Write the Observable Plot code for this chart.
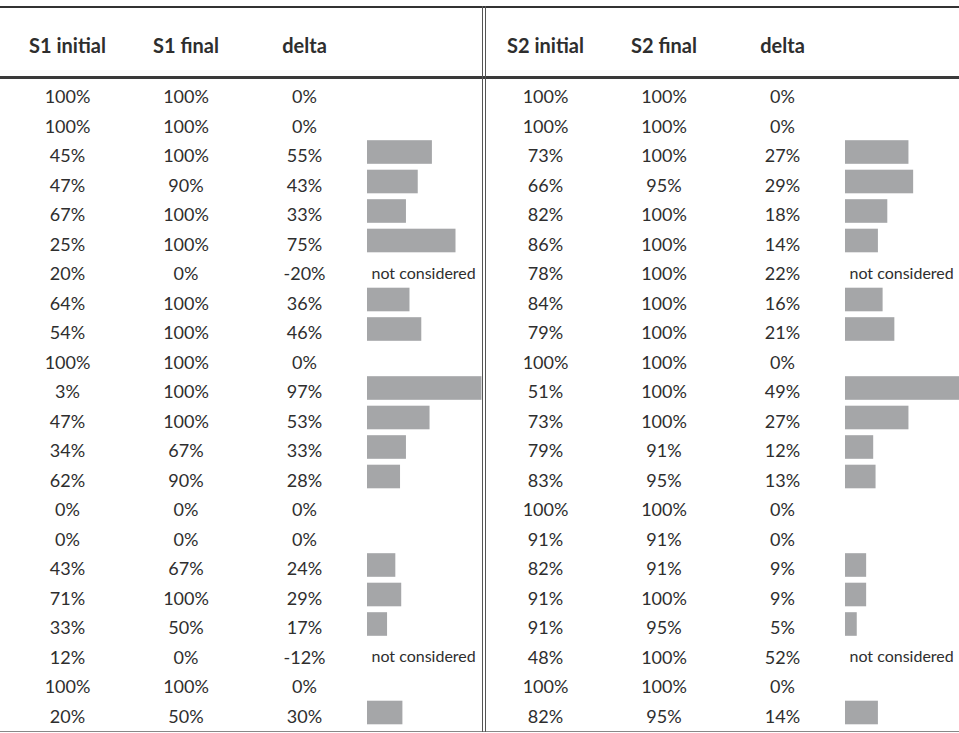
<!DOCTYPE html>
<html><head><meta charset="utf-8">
<script src="https://cdn.jsdelivr.net/npm/d3@7"></script>
<script src="https://cdn.jsdelivr.net/npm/@observablehq/plot@0.6"></script>
<style>
html,body{margin:0;padding:0;background:#fff;overflow:hidden}
#wrap{position:relative;width:959px;height:733px;font-family:Lato,sans-serif;background:#fff}
#wrap svg{position:absolute;top:0;background:transparent !important;overflow:hidden}
.rule{position:absolute}
</style></head><body><div id="wrap"></div>
<script>
// ---- data ----
const rows = d3.range(22);
const s1Columns = ["S1 initial", "S1 final", "delta"];
const s2Columns = ["S2 initial", "S2 final", "delta "];
const s1Initial = [100,100,45,47,67,25,20,64,54,100,3,47,34,62,0,0,43,71,33,12,100,20];
const s1Final   = [100,100,100,90,100,100,0,100,100,100,100,100,67,90,0,0,67,100,50,0,100,50];
const s1Delta   = [0,0,55,43,33,75,-20,36,46,0,97,53,33,28,0,0,24,29,17,-12,0,30];
const s2Initial = [100,100,73,66,82,86,78,84,79,100,51,73,79,83,100,91,82,91,91,48,100,82];
const s2Final   = [100,100,100,95,100,100,100,100,100,100,100,100,91,95,100,91,91,100,95,100,100,95];
const s2Delta   = [0,0,27,29,18,14,22,16,21,0,49,27,12,13,0,0,9,9,5,52,0,14];
const notConsideredRows = [6, 19];
const notConsideredLabel = "not considered";

const wrap = document.getElementById("wrap");
const textColor = "#2e2e2e";
const barColor = "#a5a6a8";
const yScale = {type: "band", domain: rows, range: [78.25, 727.25], paddingInner: 0.2, paddingOuter: 0.1, round: false, axis: null};

function textPlot(cols, init, fin, delta, width, xRange) {
  const long = rows.flatMap(i => [
    {row: i, col: cols[0], v: init[i]},
    {row: i, col: cols[1], v: fin[i]},
    {row: i, col: cols[2], v: delta[i]}
  ]);
  return Plot.plot({
    width, height: 733, marginTop: 78, marginBottom: 0, marginLeft: 0, marginRight: 0,
    style: {fontFamily: "Lato, sans-serif", background: "transparent", color: textColor},
    x: {type: "point", domain: cols, range: xRange, padding: 0, round: false, axis: null, label: null},
    y: yScale,
    marks: [
      Plot.axisX({anchor: "top", label: null, tickSize: 0, tickPadding: 26, fontSize: 20, fontWeight: "bold", tickFormat: d => d.trim()}),
      Plot.text(long, {x: "col", y: "row", text: d => d.v + "%", fontSize: 18, fill: textColor, dy: 4})
    ]
  });
}

function barPlot(delta, width, xRange) {
  const bars = rows.filter(i => delta[i] > 0 && !notConsideredRows.includes(i)).map(i => ({row: i, delta: delta[i]}));
  const nc = notConsideredRows.map(i => ({row: i}));
  return Plot.plot({
    width, height: 733, marginTop: 0, marginBottom: 0, marginLeft: 0, marginRight: 0,
    style: {fontFamily: "Lato, sans-serif", background: "transparent", color: textColor},
    x: {domain: [0, 100], range: xRange, axis: null},
    y: yScale,
    marks: [
      Plot.barX(bars, {x1: 0, x2: "delta", y: "row", fill: barColor, clip: "frame"}),
      Plot.text(nc, {x: 0, y: "row", text: () => notConsideredLabel, textAnchor: "start", dx: 4, dy: 3, fontSize: 16, fill: textColor})
    ]
  });
}

function place(el, left) { el.style.left = left + "px"; wrap.appendChild(el); }

place(textPlot(s1Columns, s1Initial, s1Final, s1Delta, 482, [67, 304]), 0);
place(barPlot(s1Delta, 482, [367, 485]), 0);
place(textPlot(s2Columns, s2Initial, s2Final, s2Delta, 472, [58, 295]), 487);
place(barPlot(s2Delta, 472, [358, 593]), 487);

document.querySelectorAll('#wrap g[aria-label="x-axis tick label"] text').forEach(t => t.setAttribute("font-weight", "bold"));

function rule(left, top, w, h, color) {
  const d = document.createElement("div");
  d.className = "rule";
  Object.assign(d.style, {left: left + "px", top: top + "px", width: w + "px", height: h + "px", background: color});
  wrap.appendChild(d);
}
rule(0, 6, 959, 2, "#333");
rule(0, 76, 959, 2.5, "#3a3a3a");
rule(0, 730.5, 959, 1.5, "#888");
rule(481.5, 6, 1.5, 726, "#555");
rule(484.8, 6, 1.5, 726, "#555");
</script></body></html>
